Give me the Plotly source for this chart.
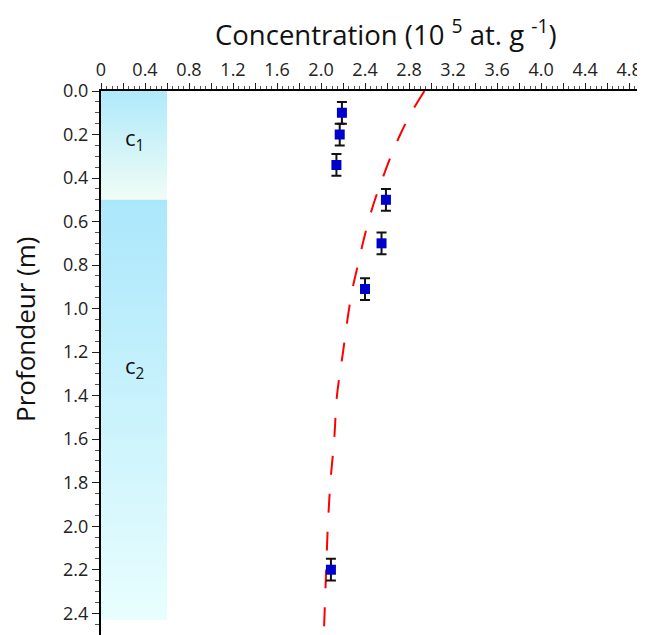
import plotly.graph_objects as go

# measured samples
depth = [0.10, 0.20, 0.34, 0.50, 0.70, 0.91, 2.20]
conc = [2.19, 2.17, 2.14, 2.59, 2.55, 2.40, 2.09]
depth_err = [0.05, 0.05, 0.05, 0.05, 0.05, 0.05, 0.05]

# model profile
model_depth = [0.0, 0.1, 0.2, 0.3, 0.4, 0.5, 0.6, 0.7, 0.8, 0.9, 1.0, 1.2, 1.4, 1.6, 1.8, 2.0, 2.2, 2.5]
model_conc = [2.94, 2.82, 2.72, 2.635, 2.56, 2.49, 2.43, 2.38, 2.335, 2.29, 2.255, 2.20, 2.145, 2.12, 2.085, 2.062, 2.047, 2.025]

# layers
layer_names = ['c<sub>1</sub>', 'c<sub>2</sub>']
layer_top = [0.0, 0.5]
layer_bottom = [0.5, 2.43]
layer_width = 0.6
layer_label_depth = [0.22, 1.27]
layer_colors = [['#afe9fb', '#f0fdf5'], ['#abe7fb', '#e8fefe']]

x_ticks = [round(0.2 * i, 1) for i in range(25)]
x_text = ['0' if v == 0 else ('%.1f' % v if i % 2 == 0 else '') for i, v in enumerate(x_ticks)]

font = 'Open Sans'

fig = go.Figure()

for name, top, bot, cols, ly in zip(layer_names, layer_top, layer_bottom, layer_colors, layer_label_depth):
    fig.add_trace(go.Scatter(
        x=[0, layer_width, layer_width, 0, 0], y=[top, top, bot, bot, top],
        mode='lines', line=dict(width=0), fill='toself',
        fillgradient=dict(type='vertical', colorscale=[[0, cols[0]], [1, cols[1]]], start=top, stop=bot),
        hoverinfo='skip', showlegend=False))
    fig.add_annotation(x=layer_width / 2, y=ly, text=name, showarrow=False,
                       font=dict(family=font, size=22, color='#111'))

fig.add_trace(go.Scatter(
    x=model_conc, y=model_depth, mode='lines',
    line=dict(color='#ff0000', width=2, dash='19px,19px', shape='spline'),
    showlegend=False))

fig.add_trace(go.Scatter(
    x=conc, y=depth, mode='markers',
    marker=dict(symbol='square', size=10, color='#0000cc'),
    error_y=dict(type='data', array=depth_err, color='#111', thickness=2, width=5),
    showlegend=False))

fig.update_xaxes(
    side='top', range=[0, 4.945], tickvals=x_ticks, ticktext=x_text, automargin=False,
    ticks='outside', ticklen=6, tickwidth=1, tickcolor='#222',
    minor=dict(dtick=0.05, ticks='outside', ticklen=3, tickcolor='#555'),
    showline=True, linecolor='black', linewidth=2, showgrid=False, zeroline=False,
    tickfont=dict(family=font, size=18, color='#222'))

fig.update_yaxes(
    range=[2.5, 0], dtick=0.2, tickformat='.1f', automargin=False,
    ticks='outside', ticklen=7, tickwidth=1, tickcolor='#222',
    minor=dict(dtick=0.05, ticks='outside', ticklen=4, tickcolor='#555'),
    showline=True, linecolor='black', linewidth=2, showgrid=False, zeroline=False,
    tickfont=dict(family=font, size=18, color='#222'))

fig.add_annotation(xref='paper', yref='paper', x=(386 - 101) / 544, y=1 + (91 - 33) / 544,
                   xanchor='center', yanchor='middle',
                   text='Concentration (10 <sup>5</sup> at. g <sup>-1</sup>)',
                   showarrow=False, font=dict(family=font, size=27.5, color='#111'))

fig.add_annotation(xref='paper', yref='paper', x=(25 - 101) / 544, y=1 - (330 - 91) / 544,
                   xanchor='center', yanchor='middle', text='Profondeur (m)',
                   textangle=-90, showarrow=False, font=dict(family=font, size=26, color='#111'))

# page body has an 8px margin, so the figure is sized to fit the window
fig.update_layout(
    width=637, height=627, margin=dict(l=93, r=0, t=83, b=0),
    plot_bgcolor='white', paper_bgcolor='white')

fig.write_html('out.html')
